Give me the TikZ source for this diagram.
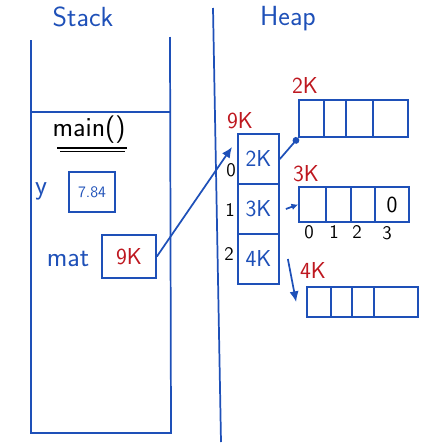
\documentclass[tikz,border=0pt]{standalone}
\usepackage{tikz}
\usetikzlibrary{arrows.meta}
\definecolor{inkblue}{RGB}{30,80,184}
\definecolor{inkred}{RGB}{190,24,32}

\begin{document}
\begin{tikzpicture}[x=0.75pt,y=0.75pt,yscale=-1,xscale=1,
  ink/.style={color=inkblue},
  redink/.style={color=inkred},
  box/.style={ink, draw, line width=1.3pt, inner sep=0pt, font=\sffamily\LARGE},
  lbl/.style={inner sep=0.75pt, font=\sffamily\LARGE},
  arr/.style={ink, line width=1.3pt, -{Latex[length=8pt,width=7pt]}}]
\useasboundingbox (0,0) rectangle (439,443);

%Stack frame
\draw [ink, line width=1.3pt] (31,40) -- (31,433) -- (171,433) -- (170,37) ;
\draw [ink, line width=1.3pt] (31,112) -- (170,112) ;
%Divider
\draw [ink, line width=1.3pt] (213,8) -- (221,442) ;
%Underline of main()
\draw [line width=1.6pt] (57,148) -- (127,148) ;
\draw [line width=0.9pt] (60,151.5) -- (125,151.5) ;

% Text Node
\node [lbl, ink, font=\sffamily\huge] (stacklbl) at (83,17) {Stack};
% Text Node
\node [lbl, ink, font=\sffamily\huge] (heaplbl) at (288,19) {Heap};
% Text Node
\node [lbl, font=\sffamily\huge] (mainlbl) at (89,130) {main()};
% Text Node
\node [lbl, ink, font=\sffamily\huge] (ylbl) at (41,191) {y};
% Text Node
\node [lbl, ink, font=\sffamily\huge] (matlbl) at (68,259) {mat};

%Variables
\node [box, minimum width=34.5pt, minimum height=30pt, font=\sffamily\large] (yval) at (92,192) {7.84};
\node [box, text=inkred, minimum width=40.5pt, minimum height=32.25pt] (mat) at (129,256.5) {9K};

%Array of references
\node [box, minimum width=30.75pt, minimum height=37.5pt] (r0) at (258.5,159) {2K};
\node [box, minimum width=30.75pt, minimum height=37.5pt] (r1) at (258.5,209) {3K};
\node [box, minimum width=30.75pt, minimum height=37.5pt] (r2) at (258.5,259) {4K};
\node [lbl, redink] (refaddr) at (240,121) {9K};
\node [lbl, font=\sffamily\Large] (i0) at (231,170) {0};
\node [lbl, font=\sffamily\Large] (i1) at (230,210) {1};
\node [lbl, font=\sffamily\Large] (i2) at (229,254) {2};

%Row arrays
\foreach \n/\cx/\w in {a0/311.5/18.75, a1/335/16.5, a2/359.5/20.25, a3/390.5/26.25}
  \node [box, minimum width=\w pt, minimum height=27.75pt] (\n) at (\cx,118.5) {};
\foreach \n/\cx/\w in {b0/312.5/20.25, b1/338.5/18.75, b2/363/18, b3/392/25.5}
  \node [box, minimum width=\w pt, minimum height=26.25pt] (\n) at (\cx,204.5) {};
\foreach \n/\cx/\w in {c0/319/18, c1/341.5/15.75, c2/363/16.5, c3/396/33}
  \node [box, minimum width=\w pt, minimum height=22.5pt] (\n) at (\cx,302) {};
\node [lbl] (zero) at (b3) {0};
\node [lbl, redink] (addra) at (305,86) {2K};
\node [lbl, redink] (addrb) at (306,174) {3K};
\node [lbl, redink] (addrc) at (313,271) {4K};
\node [lbl, font=\sffamily\Large] (j0) at (309,232) {0};
\node [lbl, font=\sffamily\Large] (j1) at (334,232) {1};
\node [lbl, font=\sffamily\Large] (j2) at (357,232) {2};
\node [lbl, font=\sffamily\Large] (j3) at (387,233) {3};

%Arrows
\coordinate (p0) at (232,147);
\draw [arr] (mat.east) -- (p0) ;
\draw [ink, line width=1.3pt, -{Circle[length=5pt]}] (r0.east) -- (a0.south west) ;
\draw [arr, -{Latex[length=5pt,width=5pt]}] ([xshift=4.5pt]r1.east) -- (b0.west) ;
\draw [arr] ([xshift=6pt]r2.east) -- ([xshift=-7.5pt]c0.west) ;

\end{tikzpicture}
\end{document}
